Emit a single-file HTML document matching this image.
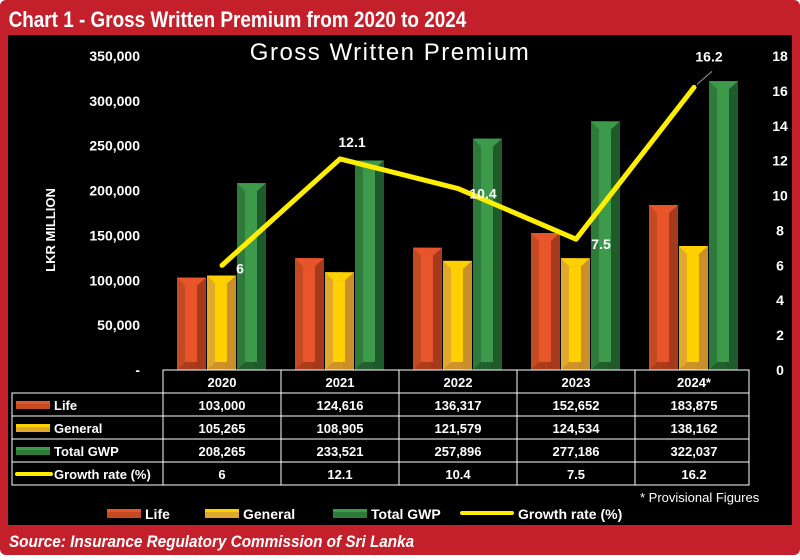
<!DOCTYPE html>
<html><head><meta charset="utf-8"><style>
body{margin:0;background:#fff}
svg text{font-family:"Liberation Sans",Arial,sans-serif}
</style></head><body>
<svg width="800" height="555" viewBox="0 0 800 555">
<rect x="0" y="0" width="800" height="555" rx="6" fill="#c4202b"/>
<text x="10" y="27" font-size="22" font-weight="bold" fill="#fff" transform="scale(0.86,1)" style="font-family:'Liberation Sans Narrow','Liberation Sans',sans-serif">Chart 1 - Gross Written Premium from 2020 to 2024</text>
<rect x="8" y="35" width="784" height="490" fill="#000"/>
<text x="390" y="60" text-anchor="middle" font-size="24" fill="#fff" letter-spacing="1.5">Gross Written Premium</text>
<text x="0" y="0" transform="translate(55,230) rotate(-90)" text-anchor="middle" font-size="13" font-weight="bold" fill="#fff">LKR MILLION</text>
<g id="axes"></g>
<g id="bars"></g>
<g id="line"></g>
<g id="table"></g>
<text x="640" y="502" font-size="13" fill="#fff">* Provisional Figures</text>
<g id="legend"></g>
<text x="10" y="547" font-size="17" font-weight="bold" font-style="italic" fill="#fff" transform="scale(0.9,1)">Source: Insurance Regulatory Commission of Sri Lanka</text>
</svg>
<script>
const categories=["2020","2021","2022","2023","2024*"];
const life=[103000,124616,136317,152652,183875];
const general=[105265,108905,121579,124534,138162];
const total=[208265,233521,257896,277186,322037];
const growth=[6,12.1,10.4,7.5,16.2];
const leftTicks=[0,50000,100000,150000,200000,250000,300000,350000];
const rightTicks=[0,2,4,6,8,10,12,14,16,18];
const NS="http://www.w3.org/2000/svg";
function mk(tag,attrs,parent,text){const e=document.createElementNS(NS,tag);for(const k in attrs)e.setAttribute(k,attrs[k]);if(text!==undefined)e.textContent=text;parent.appendChild(e);return e;}
const y0=370,yTop=56;
const yL=v=>y0-v/350000*(y0-yTop);
const yR=v=>y0-v/18*(y0-yTop);
const colX0=163,colW=118;
const xC=i=>colX0+colW*i+colW/2;
const fmt=v=>v.toLocaleString('en-US');
const axes=document.getElementById('axes');
leftTicks.forEach(t=>{const e=mk('text',{x:140,y:yL(t)+5,'text-anchor':'end','font-size':14,'font-weight':'bold',fill:'#fff'},axes,t===0?'-':fmt(t));

});
rightTicks.forEach(t=>{const e=mk('text',{x:780,y:yR(t)+5,'text-anchor':'middle','font-size':14,'font-weight':'bold',fill:'#fff'},axes,String(t));

});
const pal={life:['#a63a1c','#e8552a','#c44a22'],general:['#c98f2a','#ffd000','#e0a92c'],total:['#1f5a2a','#3c9a4a','#2e7a3a']};
const bars=document.getElementById('bars');
function bar(x,v,c,name){const w=29,y=yL(v),h=y0-y;const g=mk('g',{},bars);


mk('rect',{x:x,y:y,width:w,height:h,fill:c[0]},g);
mk('rect',{x:x,y:y,width:w*0.6,height:h,fill:c[2]},g);
mk('rect',{x:x+8,y:y+8,width:w-17,height:Math.max(0,h-16),fill:c[1]},g);
mk('polygon',{points:`${x},${y} ${x+w},${y} ${x+w-9},${y+8} ${x+8},${y+8}`,fill:c[1]},g);
mk('polygon',{points:`${x},${y0} ${x+w},${y0} ${x+w-9},${y0-8} ${x+8},${y0-8}`,fill:c[0],opacity:0.8},g);}
categories.forEach((c,i)=>{const cx=xC(i);bar(cx-45,life[i],pal.life,'bar-life-'+c);bar(cx-15,general[i],pal.general,'bar-general-'+c);bar(cx+15,total[i],pal.total,'bar-total-'+c);});
const line=document.getElementById('line');
const pts=growth.map((g,i)=>[xC(i),yR(g)]);
const pl=mk('polyline',{points:pts.map(p=>p.join(',')).join(' '),fill:'none',stroke:'#ffee00','stroke-width':5,'stroke-linejoin':'round','stroke-linecap':'round'},line);


const offs=[[18,8],[12,-12],[25,10],[25,10],[15,-26]];
growth.forEach((g,i)=>{const t=mk('text',{x:pts[i][0]+offs[i][0],y:pts[i][1]+offs[i][1],'text-anchor':'middle','font-size':14,'font-weight':'bold',fill:'#fff'},line,String(g));

});
mk('line',{x1:pts[4][0]+3,y1:pts[4][1]-3,x2:pts[4][0]+18,y2:pts[4][1]-16,stroke:'#999','stroke-width':1},line);
const tb=document.getElementById('table');
const rows=[{n:'Life',d:life,c:pal.life},{n:'General',d:general,c:pal.general},{n:'Total GWP',d:total,c:pal.total},{n:'Growth rate (%)',d:growth,c:null}];
const rh=23,ty=370,lx=12,tx1=colX0+colW*5-4;
mk('rect',{x:colX0,y:ty,width:tx1-colX0,height:rh,fill:'none',stroke:'#fff','stroke-width':1},tb);
categories.forEach((c,i)=>{const t=mk('text',{x:xC(i),y:ty+17,'text-anchor':'middle','font-size':13,'font-weight':'bold',fill:'#fff'},tb,c);


mk('line',{x1:colX0+colW*i,y1:ty,x2:colX0+colW*i,y2:ty+rh*5,stroke:'#fff'},tb);});
rows.forEach((r,ri)=>{const y=ty+rh*(ri+1);
mk('rect',{x:lx,y:y,width:tx1-lx,height:rh,fill:'none',stroke:'#fff','stroke-width':1},tb);
if(r.c){mk('rect',{x:lx+4,y:y+8,width:34,height:8,fill:r.c[2]},tb);mk('rect',{x:lx+4,y:y+8,width:34,height:3,fill:r.c[1]},tb);}
else mk('rect',{x:lx+3,y:y+10,width:38,height:4,fill:'#ffee00',rx:2},tb);
const lt=mk('text',{x:lx+42,y:y+17,'font-size':13,'font-weight':'bold',fill:'#fff'},tb,r.n);


r.d.forEach((v,i)=>{const t=mk('text',{x:xC(i),y:y+17,'text-anchor':'middle','font-size':13,'font-weight':'bold',fill:'#fff'},tb,r.c?fmt(v):String(v));

});});
mk('line',{x1:tx1,y1:ty,x2:tx1,y2:ty+rh*5,stroke:'#fff'},tb);
const lg=document.getElementById('legend');
const items=[['Life',pal.life,107],['General',pal.general,205],['Total GWP',pal.total,333],['Growth rate (%)',null,460]];
items.forEach(it=>{const g=mk('g',{},lg);


const x=it[2];
if(it[1]){mk('rect',{x:x,y:509,width:34,height:9,fill:it[1][2]},g);mk('rect',{x:x,y:509,width:34,height:3,fill:it[1][1]},g);}
else mk('rect',{x:x,y:511,width:54,height:4,fill:'#ffee00',rx:2},g);
mk('text',{x:x+(it[1]?38:58),y:519,'font-size':14,'font-weight':'bold',fill:'#fff'},g,it[0]);});
</script>
</body></html>
